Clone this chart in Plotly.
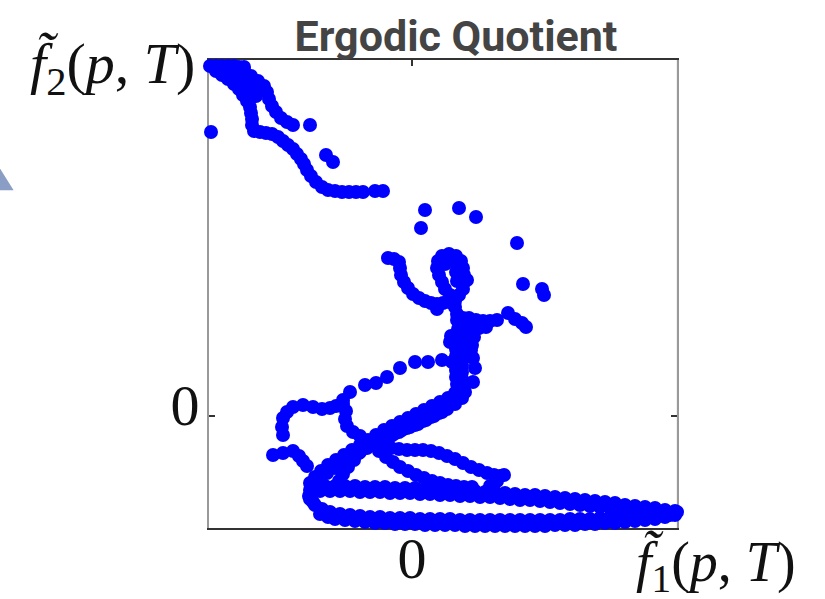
import plotly.graph_objects as go

# Data units: arbitrary (tick "0" marks the origin on each axis)
corner_top = [(-202, 350), (-196, 350), (-190, 350), (-184, 350), (-178, 350), (-173, 349), (-168, 349)]
curve_a = [(-196, 345), (-190, 341), (-184, 337), (-178, 332), (-173, 327), (-169, 321), (-165, 315),
           (-162, 309), (-161, 303), (-160, 297), (-160, 291), (-158, 285), (-152, 284), (-146, 283),
           (-140, 282), (-134, 279), (-129, 275), (-124, 271), (-119, 267), (-115, 262), (-111, 257),
           (-108, 252), (-105, 246), (-101, 240), (-96, 234), (-90, 229), (-84, 226), (-77, 225),
           (-70, 224), (-63, 224), (-56, 224), (-49, 224), (-37, 225), (-29, 225)]
curve_b = [(-168, 346), (-161, 340), (-154, 335), (-148, 330), (-145, 324), (-143, 317), (-140, 310),
           (-136, 304), (-131, 298), (-125, 294), (-119, 291)]
fill_ab = [(-184, 345), (-176, 342), (-170, 338), (-164, 333), (-160, 327), (-156, 320),
           (-190, 346), (-180, 346), (-172, 343), (-166, 339), (-160, 336)]
singles = [(-201, 284), (-102, 291), (-86, 261), (-79, 254), (13, 206), (9, 188), (47, 208), (64, 199),
           (105, 173), (111, 132), (130, 127), (132, 121)]
hook_arm = [(-24, 158), (-18, 157), (-13, 154), (-12, 148), (-11, 141), (-8, 134), (-4, 128), (1, 122),
            (7, 118), (13, 115), (19, 113), (25, 112), (31, 113), (37, 114), (43, 115), (25, 107), (43, 109)]
hook_loop = [(47, 121), (51, 127), (52, 134), (52, 141), (51, 148), (49, 155), (44, 160), (37, 162),
             (30, 160), (26, 155), (25, 148), (27, 141), (30, 134), (33, 127), (38, 121), (55, 136),
             (44, 153), (44, 144), (45, 135), (33, 152), (36, 156)]
cluster = [(45, 102), (45, 96), (51, 98), (57, 98), (64, 96), (71, 95), (78, 95), (85, 96), (74, 89),
           (67, 88), (60, 88), (53, 88), (46, 87), (39, 80), (38, 74), (46, 81), (54, 79), (62, 79),
           (60, 71), (96, 103), (103, 97), (110, 93), (114, 89)]
column = [(44, 74), (51, 72), (44, 67), (51, 65), (44, 60), (51, 58), (44, 53), (50, 51), (44, 46),
          (50, 44), (44, 39), (50, 37), (45, 32), (51, 30), (46, 25), (53, 24)]
column_dots = [(59, 66), (61, 58), (63, 48), (61, 34)]
dotted_arc = [(40, 54), (30, 56), (16, 54), (3, 54), (-12, 48), (-25, 39), (-36, 33), (-47, 31),
              (-62, 24), (-69, 16), (-76, 10), (-82, 8), (-90, 7), (-99, 9), (-109, 11), (-119, 9),
              (-125, 4), (-129, -2), (-130, -11), (-129, -19)]
dotted_drop = [(-69, 12), (-66, 5), (-67, -3), (-65, -10), (-59, -16), (-52, -20), (-45, -25)]
small_seg = [(-139, -39), (-129, -37), (-119, -35), (-113, -40), (-109, -45), (-105, -50)]
band_upper = [(43, 23), (36, 18), (28, 14), (20, 10), (12, 6), (4, 2), (-4, -2), (-12, -6), (-20, -10),
              (-28, -14), (-36, -19), (-44, -24), (-52, -29), (-60, -34), (-68, -39), (-76, -44),
              (-84, -49), (-91, -55), (-97, -61), (-102, -67)]
band_lower = [(50, 18), (43, 12), (35, 7), (27, 3), (19, -1), (11, -5), (3, -9), (-5, -12), (-13, -16),
              (-21, -20), (-29, -24), (-37, -28), (-45, -32), (-53, -37), (-61, -42), (-69, -47),
              (-77, -52), (-85, -57), (-92, -63), (-98, -69)]
band_mid = [(30, 4), (22, 0), (14, -4), (6, -8), (-2, -11), (-10, -14), (-18, -18)]
arm_down = [(-39, -29), (-33, -35), (-26, -41), (-19, -46), (-12, -51), (-4, -55), (4, -59), (12, -62),
            (20, -65), (28, -67), (36, -69), (44, -70), (52, -71), (60, -71)]
arm_right = [(-29, -31), (-21, -32), (-13, -33), (-5, -34), (3, -34), (11, -34), (19, -35), (27, -37),
             (35, -40), (43, -43), (51, -47), (59, -51), (67, -54), (75, -57), (82, -59), (88, -60),
             (92, -59), (85, -65), (78, -70)]
tri_left = [(-52, -36), (-58, -44), (-64, -51), (-69, -58), (-73, -65)]
loop_u1 = [(-97, -71), (-87, -70), (-77, -70), (-67, -70), (-57, -70), (-47, -71), (-37, -71), (-27, -71),
           (-17, -72), (-7, -72), (3, -72), (13, -73), (23, -73), (33, -74), (43, -74), (53, -75),
           (63, -75), (73, -76), (83, -76), (93, -77), (103, -78), (113, -79), (123, -79), (133, -80),
           (143, -81), (153, -82), (163, -83), (173, -84), (183, -85), (193, -86), (203, -87), (213, -89),
           (223, -90), (233, -91), (243, -92), (253, -94), (263, -95)]
loop_u2 = [(-92, -75), (-82, -75), (-72, -75), (-62, -75), (-52, -76), (-42, -76), (-32, -76), (-22, -77),
           (-12, -77), (-2, -77), (8, -78), (18, -78), (28, -79), (38, -79), (48, -80), (58, -80),
           (68, -81), (78, -81), (88, -82), (98, -83), (108, -84), (118, -84), (128, -85), (138, -86),
           (148, -87), (158, -88), (168, -89), (178, -90), (188, -91), (198, -92), (208, -93), (218, -95),
           (228, -96), (238, -97), (248, -98), (258, -99)]
turn = [(-102, -74), (-103, -80), (-99, -86)]
loop_l1 = [(-102, -83), (-97, -89), (-90, -93), (-82, -96), (-72, -98), (-62, -99), (-52, -100),
           (-42, -101), (-32, -101), (-22, -102), (-12, -102), (-2, -102), (8, -103), (18, -103),
           (28, -103), (38, -103), (48, -104), (58, -104), (68, -104), (78, -104), (88, -104), (98, -104),
           (108, -104), (118, -104), (128, -104), (138, -104), (148, -104), (158, -103), (168, -103),
           (178, -103), (188, -102), (198, -102), (208, -101), (218, -101), (228, -100), (238, -99),
           (248, -98), (258, -97)]
loop_l2 = [(-92, -98), (-84, -101), (-77, -103), (-67, -104), (-57, -105), (-47, -106), (-37, -107),
           (-27, -107), (-17, -108), (-7, -108), (3, -108), (13, -109), (23, -109), (33, -109), (43, -109),
           (53, -110), (63, -110), (73, -110), (83, -110), (93, -110), (103, -110), (113, -110),
           (123, -110), (133, -110), (143, -109), (153, -109), (163, -109), (173, -108), (183, -108),
           (193, -107), (203, -107), (213, -106), (223, -105), (233, -104), (243, -103), (253, -101),
           (263, -99)]
end_blob = [(265, -96), (268, -98)]

segments = [corner_top, curve_a, curve_b, fill_ab, singles, hook_arm, hook_loop, cluster, column,
            column_dots, dotted_arc, dotted_drop, small_seg, band_upper, band_lower, band_mid, arm_down,
            arm_right, tri_left, loop_u1, loop_u2, turn, loop_l1, loop_l2, end_blob]

x_range = [-203, 265]
y_range = [-112, 356]
tick_vals = [0]
tick_text = ["0"]

fig = go.Figure()
for seg in segments:
    fig.add_trace(go.Scatter(
        x=[p[0] for p in seg], y=[p[1] for p in seg], mode="markers",
        marker=dict(size=14, color="#0000ff", line=dict(width=0)),
        cliponaxis=False, showlegend=False, hoverinfo="skip"))

serif = "Liberation Serif, DejaVu Serif, serif"
fig.update_layout(
    width=825, height=599, autosize=False,
    margin=dict(l=209, r=148, t=60, b=71, autoexpand=False),
    paper_bgcolor="white", plot_bgcolor="white",
    title=dict(text="<b>Ergodic Quotient</b>", x=456 / 825, xanchor="center",
               y=1 - 36 / 599, yanchor="middle", yref="container", automargin=False,
               font=dict(family="Roboto, Liberation Sans, sans-serif", size=43, color="#444444")),
    xaxis=dict(range=x_range, showgrid=False, zeroline=False, showline=True, linecolor="#333333",
               linewidth=2, mirror="ticks", ticks="inside", ticklen=6, tickwidth=2, tickcolor="#333333",
               tickvals=tick_vals, ticktext=tick_text, tickfont=dict(family=serif, size=58, color="#111111"),
               ticklabelstandoff=-22,
               layer="below traces", fixedrange=True, automargin=False),
    yaxis=dict(range=y_range, showgrid=False, zeroline=False, showline=True, linecolor="#999999",
               linewidth=2, mirror="ticks", ticks="inside", ticklen=6, tickwidth=2, tickcolor="#333333",
               tickvals=tick_vals, ticktext=tick_text, tickfont=dict(family=serif, size=58, color="#111111"),
               ticklabelstandoff=-4, ticklabelshift=-11,
               layer="below traces", fixedrange=True, automargin=False),
    shapes=[
        dict(type="line", xref="paper", yref="paper", x0=1.002, x1=1.002, y0=0, y1=1.002,
             line=dict(color="#333333", width=2), layer="below"),
        dict(type="path", xref="paper", yref="paper",
             path="M -0.4497 0.773 L -0.4176 0.7216 L -0.4497 0.7216 Z",
             fillcolor="#8a9dc4", line=dict(width=0)),
    ],
    annotations=[
        dict(text="<i>f\u0303</i><sub>2</sub>(<i>p</i>, <i>T</i>)", xref="paper", yref="paper",
             x=-0.0256, y=0.985, xanchor="right", yanchor="middle", showarrow=False,
             font=dict(family=serif, size=58, color="#111111")),
        dict(text="<i>f\u0303</i><sub>1</sub>(<i>p</i>, <i>T</i>)", xref="paper", yref="paper",
             x=1.083, y=-0.078, xanchor="center", yanchor="middle", showarrow=False,
             font=dict(family=serif, size=56, color="#111111")),
    ],
)

fig.write_html("out.html", config={"displayModeBar": False, "staticPlot": True})
